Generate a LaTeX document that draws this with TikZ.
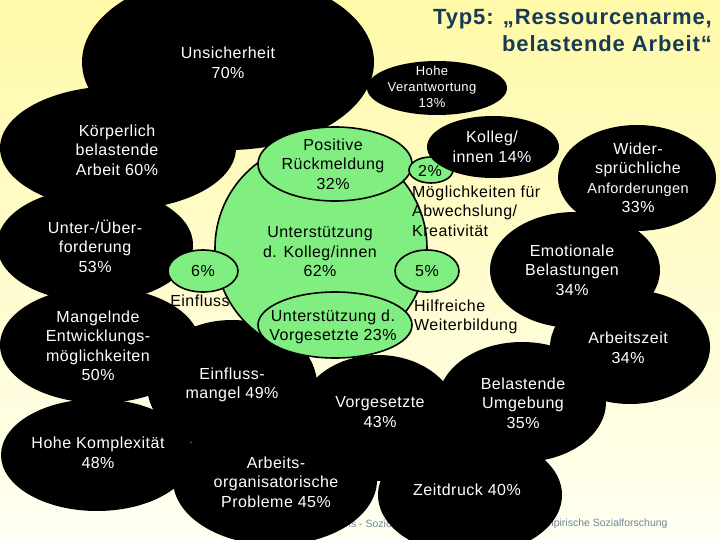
\documentclass[tikz,border=0pt]{standalone}
\usepackage{fontspec}
\setmainfont{Liberation Sans}
\newfontfamily\bubfamily[LetterSpace=3]{Liberation Sans}
\newfontfamily\headfamily[LetterSpace=4]{Liberation Sans}
\usetikzlibrary{shapes.geometric}
\usepackage{xcolor}

\definecolor{bgtop}{RGB}{255,249,168}
\definecolor{bgbottom}{RGB}{255,255,242}
\definecolor{leafgreen}{RGB}{128,238,128}
\definecolor{headblue}{RGB}{24,58,84}
\definecolor{footgray}{RGB}{110,135,155}

\newcommand{\bubfont}{\bubfamily\fontsize{16}{19.5}\selectfont}
\newcommand{\smallbubfont}{\bubfamily\fontsize{13}{16}\selectfont}

\tikzset{
  dims/.style 2 args={minimum width=#1pt, minimum height=#2pt},
  blackblob/.style={ellipse, fill=black, inner sep=0pt},
  greenblob/.style={ellipse, draw=black, line width=1.6pt, fill=leafgreen, inner sep=0pt},
  whitetext/.style={text=white, align=center, font=\bubfont, inner sep=0pt},
  darktext/.style={text=black, align=center, font=\bubfont, inner sep=0pt},
  foottext/.style={text=footgray, font=\fontsize{10.5}{12}\selectfont, inner sep=0pt},
}

\begin{document}
\begin{tikzpicture}[x=1pt, y=-1pt]
  \useasboundingbox (0,0) rectangle (720,540);
  \shade[top color=bgtop, bottom color=bgbottom] (0,0) rectangle (720,540);

  % footer, mostly hidden behind the bubbles
  \node[foottext, anchor=west] (footl) at (345,524) {ns - Sozio};
  \node[foottext, anchor=west] (footr) at (539,524) {empirische Sozialforschung};

  % title
  \node[anchor=north east, align=right, inner sep=0pt, text=headblue,
        font=\headfamily\bfseries\fontsize{22}{27}\selectfont] (title) at (712,9.5)
        {Typ5: „Ressourcenarme,\\belastende Arbeit“};

  % black bubbles
  \node[blackblob, dims={292}{176}] (unsich) at (228,62) {};
  \node[blackblob, dims={140}{54}] (verantw) at (437,88) {};
  \node[blackblob, dims={236}{124}] (koerper) at (118,148) {};
  \node[blackblob, dims={196}{114}] (unterueber) at (95,245) {};
  \node[blackblob, dims={200}{116}] (mangel) at (100,345) {};
  \node[blackblob, dims={192}{112}] (komplex) at (97,455) {};
  \node[blackblob, dims={170}{130}] (einflussm) at (232,385) {};
  \node[blackblob, dims={204}{130}] (arbeitsorg) at (275,480) {};
  \node[blackblob, dims={160}{126}] (vorges) at (378,418) {};
  \node[blackblob, dims={168}{120}] (belumg) at (522,402) {};
  \node[blackblob, dims={184}{120}] (zeitdr) at (470,495) {};
  \node[blackblob, dims={160}{114}] (arbzeit) at (630,347) {};
  \node[blackblob, dims={170}{116}] (emot) at (575,270) {};
  \node[blackblob, dims={158}{106}] (widerspr) at (637,178) {};

  % green bubbles
  \node[greenblob, dims={212}{212}] (unterstk) at (321,248) {};
  \node[greenblob, dims={154}{74}] (posrueck) at (335,164) {};
  \node[greenblob, dims={154}{66}] (unterstv) at (335,325) {};
  \node[greenblob, dims={70}{42}] (sechs) at (203,271) {};
  \node[greenblob, dims={64}{42}] (fuenf) at (427,271) {};
  \node[greenblob, dims={44}{26}] (zwei) at (431,170) {};
  \node[blackblob, dims={132}{62}] (kolleg) at (493,147) {};

  % bubble texts
  \node[whitetext] (unsich-t) at (228,63) {Unsicherheit\\70\%};
  \node[whitetext, font=\smallbubfont] (verantw-t) at (432,87) {Hohe\\Verantwortung\\13\%};
  \node[whitetext] (koerper-t) at (117,150) {Körperlich\\belastende\\Arbeit 60\%};
  \node[whitetext] (unterueber-t) at (95,246) {Unter-/Über-\\forderung\\53\%};
  \node[whitetext] (mangel-t) at (98,346) {Mangelnde\\Entwicklungs-\\möglichkeiten\\50\%};
  \node[whitetext] (komplex-t) at (98,453) {Hohe Komplexität\\48\%};
  \node[whitetext] (einflussm-t) at (232,385) {Einfluss-\\mangel 49\%};
  \node[whitetext] (arbeitsorg-t) at (276,482) {Arbeits-\\organisatorische\\Probleme 45\%};
  \node[whitetext] (vorges-t) at (380,412) {Vorgesetzte\\43\%};
  \node[whitetext] (belumg-t) at (523,403) {Belastende\\Umgebung\\35\%};
  \node[whitetext] (zeitdr-t) at (467,490) {Zeitdruck 40\%};
  \node[whitetext] (arbzeit-t) at (628,348) {Arbeitszeit\\34\%};
  \node[whitetext] (emot-t) at (572,270) {Emotionale\\Belastungen\\34\%};
  \node[whitetext] (widerspr-t) at (638,178)
    {Wider-\\sprüchliche\\{\bubfamily\fontsize{14.5}{19.5}\selectfont Anforderungen}\\33\%};
  \node[whitetext] (kolleg-t) at (492,147) {Kolleg/\\innen 14\%};

  \node[darktext] (posrueck-t) at (333,164) {Positive\\Rückmeldung\\32\%};
  \node[darktext] (unterstk-t) at (320,252) {Unterstützung\\d. Kolleg/innen\\62\%};
  \node[darktext] (unterstv-t) at (333,327) {Unterstützung d.\\Vorgesetzte 23\%};
  \node[darktext] (sechs-t) at (203,271) {6\%};
  \node[darktext] (fuenf-t) at (427,271) {5\%};
  \node[darktext] (zwei-t) at (430,171) {2\%};

  % labels on the background
  \node[darktext, align=left, anchor=west] (abwechsl) at (412,211)
    {Möglichkeiten für\\Abwechslung/\\Kreativität};
  \node[darktext, align=left, anchor=west] (weiterb) at (414,317)
    {Hilfreiche\\Weiterbildung};
  \node[darktext] (einfluss) at (200,301) {Einfluss};
\end{tikzpicture}
\end{document}
